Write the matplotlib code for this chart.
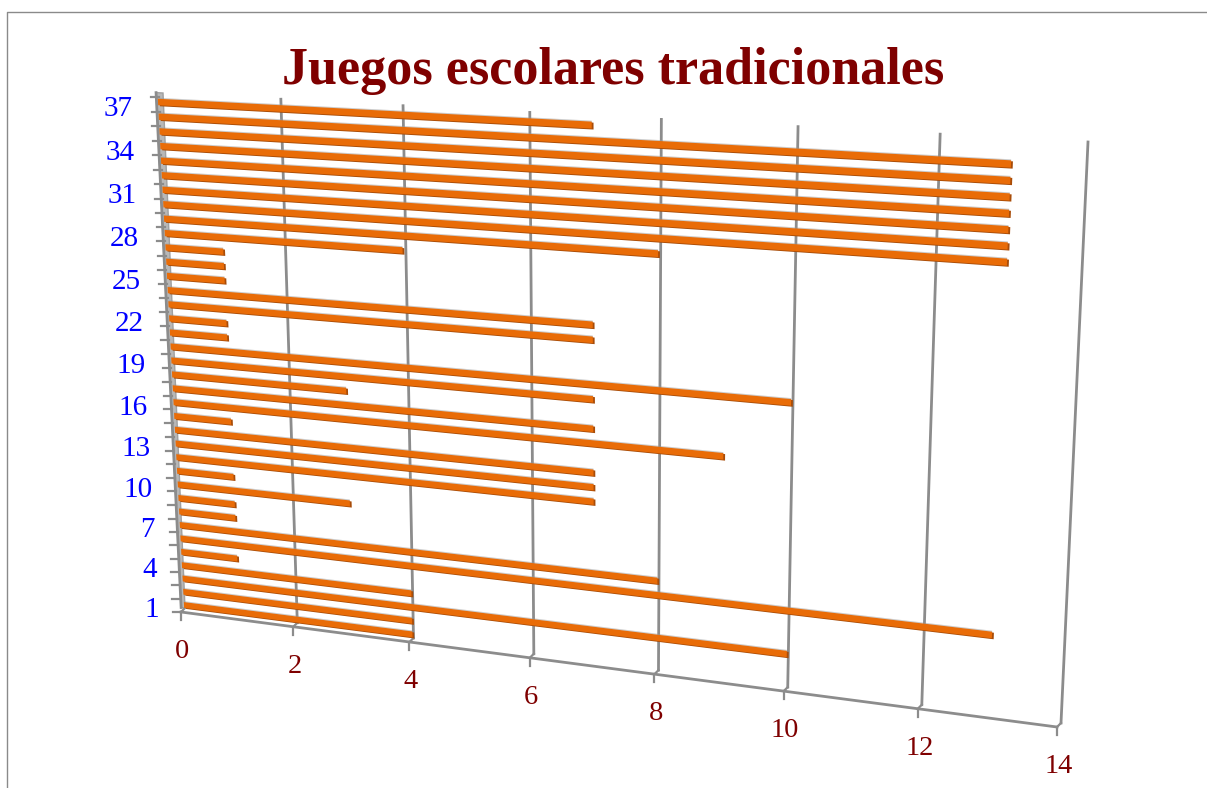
import numpy as np
import matplotlib
matplotlib.use("Agg")
import matplotlib.pyplot as plt
from matplotlib.transforms import Transform, Affine2D

# ---- data -------------------------------------------------------------
categories = list(range(1, 38))
values = [4, 4, 10, 4, 1, 13, 8, 1, 1, 3, 1, 7, 7, 7, 1, 9, 7, 3, 7, 10,
          1, 1, 7, 7, 1, 1, 1, 4, 8, 13, 13, 13, 13, 13, 13, 13, 7]
x_ticks = [0, 2, 4, 6, 8, 10, 12, 14]
y_labels = [1, 4, 7, 10, 13, 16, 19, 22, 25, 28, 31, 34, 37]
title = "Juegos escolares tradicionales"
X_MAX = 14
Y_MIN, Y_MAX = 0.5, 37.5

W, H = 1207, 788
ORANGE = "#e96c07"
DARK = "#a84c08"
GRID = "#8c8c8c"
BLUE = "#0000ff"
MAROON = "#7f0000"


def homography(src, dst):
    A, b = [], []
    for (x, y), (u, v) in zip(src, dst):
        A.append([x, y, 1, 0, 0, 0, -u * x, -u * y])
        A.append([0, 0, 0, x, y, 1, -v * x, -v * y])
        b += [u, v]
    return np.append(np.linalg.solve(np.array(A, float), np.array(b, float)), 1).reshape(3, 3)


class Perspective(Transform):
    """Data (value, category) -> pixel position, as a 3-D chart camera would."""
    input_dims = output_dims = 2

    def __init__(self, src, dst):
        super().__init__()
        self.m = homography(src, dst)

    def transform_non_affine(self, pts):
        pts = np.asarray(pts, float)
        p = np.c_[pts, np.ones(len(pts))] @ self.m.T
        return p[:, :2] / p[:, 2:3]


fig = plt.figure(figsize=(W / 100, H / 100), dpi=100)
ax = fig.add_axes([0, 0, 1, 1])
ax.set_xlim(0, W)
ax.set_ylim(H, 0)
ax.set_autoscale_on(False)
ax.axis("off")

# camera for back wall and for the plane the bars sit on
domain = [(0, Y_MIN), (X_MAX, Y_MIN), (0, Y_MAX), (X_MAX, Y_MAX)]
wall_cam = Perspective(domain, [(185, 608), (1061, 723), (163, 93), (1088, 142)])
bar_cam = Perspective([(0, 1), (0, 37), (13, 6), (13, 36)],
                      [(184, 605), (158, 102), (992, 635), (1011, 164)])
wall = wall_cam + ax.transData
floor = wall_cam + Affine2D().translate(-4, 4) + ax.transData
floor_tick = wall_cam + Affine2D().translate(-4, 12) + ax.transData
floor_lab = wall_cam + Affine2D().translate(-2.5, 43.5) + ax.transData
ytick_l = wall_cam + Affine2D().translate(-12, 4) + ax.transData
bars_main = bar_cam + ax.transData
bars_side = bar_cam + Affine2D().translate(1.8, 1.0) + ax.transData
bars_shadow = bar_cam + Affine2D().translate(0, -1.0) + ax.transData

# outer frame
ax.plot([7, 7, W], [H, 12, 12], color="#8a8a8a", lw=1.0, zorder=1)

# left side wall: a narrow band in front of value 0
side_v = [0, 0, -0.12, -0.07]
side_c = [Y_MIN, Y_MAX, Y_MAX, Y_MIN]
ax.fill(side_v, side_c, facecolor="#b8b8b8", edgecolor="#a0a0a0", lw=1, transform=wall, zorder=1.5)
ax.plot(side_v[2:], side_c[2:], color=GRID, lw=2.0, transform=wall, zorder=2)

# gridlines, floor edge, x ticks
inv = ax.transData.inverted()
for v in x_ticks:
    if v > 0:
        ax.plot([v, v], [Y_MIN, Y_MAX], color=GRID, lw=2, transform=wall, zorder=2)
    for a, b in ((floor, wall), (floor, floor_tick)):
        qa, qb = inv.transform([a.transform([(v, Y_MIN)])[0], b.transform([(v, Y_MIN)])[0]])
        ax.plot([qa[0], qb[0]], [qa[1], qb[1]], color=GRID, lw=1.6, zorder=2)
    ax.text(v, Y_MIN, str(v), transform=floor_lab, ha="center", va="center",
            color=MAROON, fontsize=20.5, family="Liberation Serif")
ax.plot([0, X_MAX], [Y_MIN, Y_MIN], color=GRID, lw=2, transform=floor, zorder=2)

# category ticks (at category edges)
for e in np.arange(Y_MIN, Y_MAX + 1):
    p0, p1 = inv.transform([ytick_l.transform([(0, e)])[0], floor.transform([(0, e)])[0]])
    ax.plot([p0[0], p1[0]], [p1[1], p1[1]], color=GRID, lw=1.6, zorder=2)

for c in y_labels:
    label_shift = Affine2D().translate(-31 + 5 * (37 - c) / 36, 9)
    ax.text(0, c, str(c), transform=wall_cam + label_shift + ax.transData,
            ha="right", va="center", color=BLUE, fontsize=21, family="Liberation Serif")

# bars
ax.barh(categories, values, height=0.44, color="#9a9a9a", alpha=0.5, transform=bars_shadow, zorder=3)
ax.barh(categories, values, height=0.44, color=DARK, transform=bars_side, zorder=4)
ax.barh(categories, values, height=0.44, color=ORANGE, transform=bars_main, zorder=5)

ax.text(613, 71, title, ha="center", va="center", color=MAROON, fontsize=37.5,
        fontweight="bold", family="Liberation Serif")

fig.savefig("out.png", dpi=100)
